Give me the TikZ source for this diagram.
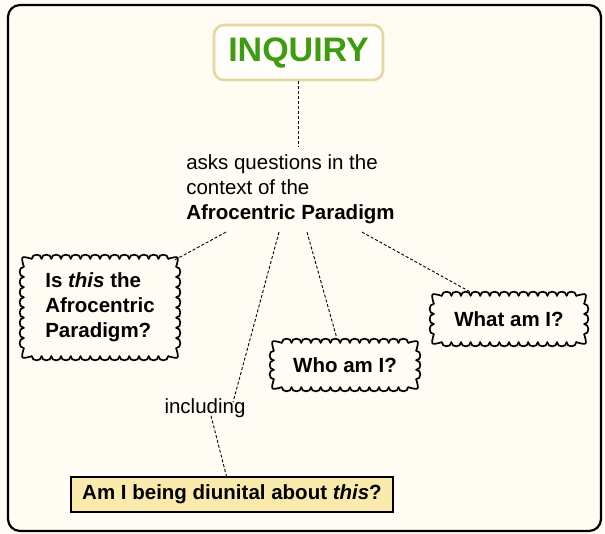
\documentclass[tikz,border=0pt]{standalone}
\usepackage{fontspec}
\setmainfont{Liberation Sans}
\usetikzlibrary{positioning, arrows.meta, calc}
\definecolor{paper}{HTML}{FFFCF4}
\definecolor{tan}{HTML}{E5D89F}
\definecolor{leaf}{HTML}{3E9C10}
\definecolor{butter}{HTML}{FAEBAC}

% scalloped frame round a node: #1 node, #2 bumps across, #3 bumps down
\newcommand\scallopframe[3]{%
    \foreach \j in {1,...,#2} {
        \draw[cloudline] ($([xshift=8pt]#1.north west)!{(\j-1)/#2}!([xshift=-8pt]#1.north east)$)
            .. controls +(0pt,5.5pt) and +(0pt,5.5pt) .. ($([xshift=8pt]#1.north west)!{\j/#2}!([xshift=-8pt]#1.north east)$);
        \draw[cloudline] ($([xshift=8pt]#1.south west)!{(\j-1)/#2}!([xshift=-8pt]#1.south east)$)
            .. controls +(0pt,-5.5pt) and +(0pt,-5.5pt) .. ($([xshift=8pt]#1.south west)!{\j/#2}!([xshift=-8pt]#1.south east)$);
    }
    \foreach \j in {1,...,#3} {
        \draw[cloudline] ($([yshift=-8pt]#1.north west)!{(\j-1)/#3}!([yshift=8pt]#1.south west)$)
            .. controls +(-5.5pt,0pt) and +(-5.5pt,0pt) .. ($([yshift=-8pt]#1.north west)!{\j/#3}!([yshift=8pt]#1.south west)$);
        \draw[cloudline] ($([yshift=-8pt]#1.north east)!{(\j-1)/#3}!([yshift=8pt]#1.south east)$)
            .. controls +(5.5pt,0pt) and +(5.5pt,0pt) .. ($([yshift=-8pt]#1.north east)!{\j/#3}!([yshift=8pt]#1.south east)$);
    }
    \draw[cloudline] ([xshift=8pt]#1.north west) .. controls ([xshift=-3pt, yshift=3pt]#1.north west) .. ([yshift=-8pt]#1.north west);
    \draw[cloudline] ([xshift=-8pt]#1.north east) .. controls ([xshift=3pt, yshift=3pt]#1.north east) .. ([yshift=-8pt]#1.north east);
    \draw[cloudline] ([xshift=8pt]#1.south west) .. controls ([xshift=-3pt, yshift=-3pt]#1.south west) .. ([yshift=8pt]#1.south west);
    \draw[cloudline] ([xshift=-8pt]#1.south east) .. controls ([xshift=3pt, yshift=-3pt]#1.south east) .. ([yshift=8pt]#1.south east);
}

\begin{document}
\begin{tikzpicture}[x=1pt, y=-1pt,
        every node/.style={font=\fontsize{20.5}{25}\selectfont},
        link/.style={draw, line width=0.9pt, dash pattern=on 3pt off 2pt},
        cloudline/.style={line width=1.7pt, line cap=round},
        cloudbox/.style={fill=paper, align=left, font=\fontsize{20.5}{25}\selectfont\bfseries},
        titlebox/.style={draw=tan, line width=2.6pt, fill=paper!50!white, rounded corners=10pt,
            minimum width=169pt, minimum height=55pt, text=leaf, font=\fontsize{34}{40}\selectfont\bfseries},
        askbox/.style={draw, line width=1.4pt, fill=butter, minimum width=322pt, minimum height=35pt,
            font=\fontsize{20.5}{25}\selectfont\bfseries}]
        \fill[paper] (0,0) rectangle (605,534);
        \useasboundingbox (0,0) rectangle (605,534);
        \draw[line width=2.2pt, rounded corners=12pt] (8,5) rectangle (601,531);

        \node[titlebox] (inq) at (298.5,52.5) {INQUIRY};
        \node[align=left, inner sep=0pt, outer sep=8pt] (ask) at (290.5,189.5)
            {asks questions in the\\context of the\\\textbf{Afrocentric Paradigm}};
        \node[cloudbox, minimum width=152pt, minimum height=97pt] (isthis) at (100,307.5)
            {Is \textit{this} the\\Afrocentric\\Paradigm?};
        \node[cloudbox, minimum width=142pt, minimum height=44pt] (who) at (345,365) {Who am I?};
        \node[cloudbox, minimum width=150pt, minimum height=46pt] (what) at (509,319) {What am I?};
        \node[inner sep=2pt] (incl) at (205,408) {including};
        \node[askbox] (diun) at (232,494.5) {Am I being diunital about \textit{this}?};

        \scallopframe{isthis}{14}{8}
        \scallopframe{who}{13}{3}
        \scallopframe{what}{14}{3}

        \draw[link] (inq.south) -- (inq.south |- ask.north);
        \draw[link] ([xshift=-64.5pt]ask.south) -- ([xshift=-3pt, yshift=-2pt]isthis.north east);
        \draw[link] ([xshift=-11.5pt]ask.south) -- ([xshift=28pt, yshift=-6pt]incl.north);
        \draw[link] ([xshift=16.5pt]ask.south) -- ([xshift=-8pt, yshift=4pt]who.north);
        \draw[link] ([xshift=71.5pt]ask.south) -- ([xshift=-39pt, yshift=4pt]what.north);
        \draw[link] ([xshift=6pt, yshift=4pt]incl.south) -- ([xshift=-5pt, yshift=-2pt]diun.north);
    \end{tikzpicture}
\end{document}
